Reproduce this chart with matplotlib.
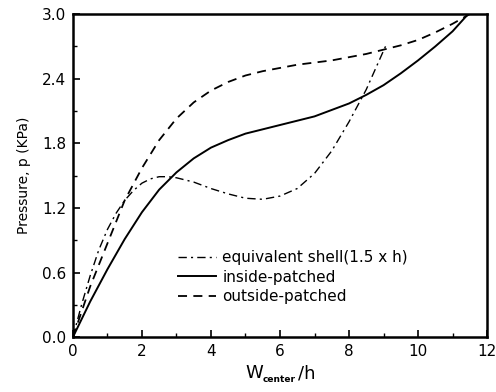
import matplotlib
matplotlib.use("Agg")
import matplotlib.pyplot as plt
from matplotlib.ticker import MultipleLocator

plt.rcParams['font.family'] = ['DejaVu Sans']

# --- data ---
# equivalent shell (1.5 x h): dash-dot
shell_x = [0, 0.25, 0.5, 0.75, 1.0, 1.25, 1.5, 1.75, 2.0, 2.25, 2.5, 2.75, 3.0,
           3.5, 4.0, 4.5, 5.0, 5.5, 6.0, 6.5, 7.0, 7.5, 8.0, 8.5, 9.0, 9.1]
shell_p = [0, 0.30, 0.57, 0.81, 1.00, 1.15, 1.27, 1.36, 1.43, 1.47, 1.49, 1.49, 1.48,
           1.44, 1.38, 1.33, 1.29, 1.28, 1.31, 1.38, 1.52, 1.73, 2.00, 2.30, 2.66, 2.73]

# inside-patched: solid
inside_x = [0, 0.5, 1.0, 1.5, 2.0, 2.5, 3.0, 3.5, 4.0, 4.5, 5.0, 5.5, 6.0,
            6.5, 7.0, 7.5, 8.0, 8.5, 9.0, 9.5, 10.0, 10.5, 11.0, 11.45]
inside_p = [0, 0.33, 0.63, 0.91, 1.16, 1.37, 1.53, 1.66, 1.76, 1.83, 1.89, 1.93, 1.97,
            2.01, 2.05, 2.11, 2.17, 2.25, 2.34, 2.45, 2.57, 2.70, 2.84, 3.0]

# outside-patched: dashed
outside_x = [0, 0.5, 1.0, 1.5, 2.0, 2.5, 3.0, 3.5, 4.0, 4.5, 5.0, 5.5, 6.0,
             6.5, 7.0, 7.5, 8.0, 8.5, 9.0, 9.5, 10.0, 10.5, 11.0, 11.5]
outside_p = [0, 0.47, 0.87, 1.27, 1.57, 1.83, 2.03, 2.18, 2.29, 2.37, 2.43, 2.47, 2.50,
             2.53, 2.55, 2.57, 2.60, 2.63, 2.67, 2.71, 2.76, 2.83, 2.91, 3.0]

fig = plt.figure(figsize=(4.96, 3.92), dpi=100)
ax = fig.add_axes([0.147, 0.140, 0.835, 0.824])

ax.plot(shell_x, shell_p, color='black', lw=1.0, linestyle=(0, (6, 3, 1.5, 3)),
        label='equivalent shell(1.5 x h)')
ax.plot(inside_x, inside_p, color='black', lw=1.4, linestyle='-', label='inside-patched')
ax.plot(outside_x, outside_p, color='black', lw=1.3, linestyle=(0, (5, 3.5)),
        label='outside-patched')

ax.set_xlim(0, 12)
ax.set_ylim(0, 3.0)
ax.xaxis.set_major_locator(MultipleLocator(2))
ax.xaxis.set_minor_locator(MultipleLocator(1))
ax.yaxis.set_major_locator(MultipleLocator(0.6))
ax.yaxis.set_minor_locator(MultipleLocator(0.3))
ax.yaxis.set_major_formatter(plt.FormatStrFormatter('%.1f'))
ax.tick_params(which='both', direction='in', top=False, right=False, labelsize=11, pad=5)
ax.tick_params(which='major', length=5, width=1.2)
ax.tick_params(which='minor', length=3, width=1.0)
for s in ax.spines.values():
    s.set_linewidth(1.8)

ax.set_ylabel('Pressure, p (KPa)', fontsize=10, labelpad=8)

# x label: W with a small bold subscript, then /h
fig.text(245 / 496, 1 - 378 / 392, 'W', fontsize=13, ha='left', va='baseline')
fig.text(263 / 496, 1 - 382 / 392, 'center', fontsize=6.5, fontweight='bold',
         ha='left', va='baseline')
fig.text(298 / 496, 1 - 378 / 392, '/h', fontsize=13, ha='left', va='baseline')

ax.legend(loc='center left', bbox_to_anchor=(0.254, 0.186), frameon=False, fontsize=11,
          handlelength=2.5, handletextpad=0.4, labelspacing=0.3, borderpad=0,
          borderaxespad=0)

fig.savefig('out.png', dpi=100)
